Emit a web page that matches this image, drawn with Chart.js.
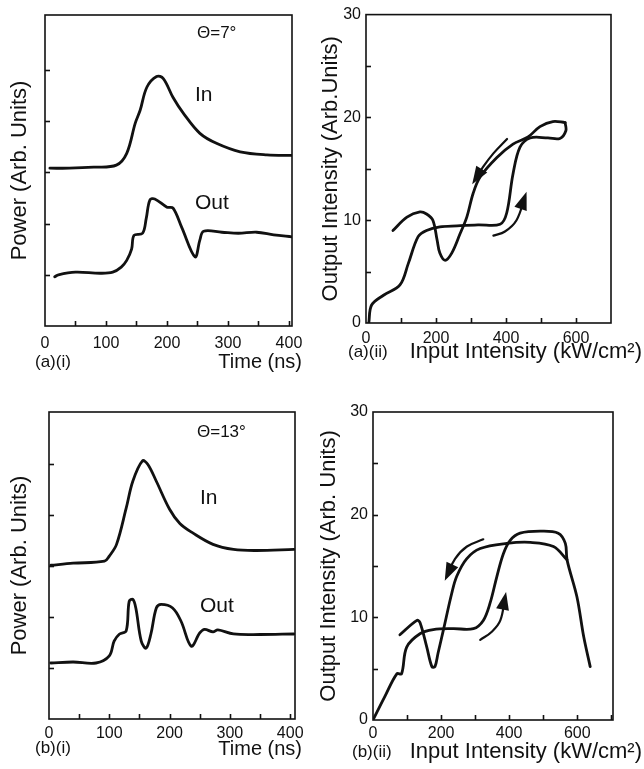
<!DOCTYPE html>
<html><head><meta charset="utf-8">
<script src="https://cdn.jsdelivr.net/npm/chart.js@4.4.1/dist/chart.umd.min.js"></script>
<style>
html,body{margin:0;padding:0;background:#fff;}
#wrap{position:relative;width:644px;height:769px;overflow:hidden;}
canvas{position:absolute;}
</style></head><body>
<div id="wrap">
<canvas id="c1" width="320" height="380" style="left:0;top:0"></canvas>
<canvas id="c2" width="324" height="380" style="left:320px;top:0"></canvas>
<canvas id="c3" width="320" height="389" style="left:0;top:380px"></canvas>
<canvas id="c4" width="324" height="389" style="left:320px;top:380px"></canvas>
</div>
<script>
// ---------- data: (a)(i) theta = 7 deg ----------
const inTimeA  = [8, 40, 80, 117, 134, 148, 156, 167, 183, 194, 210, 227, 254, 282, 320, 364, 405];
const inPowA   = [3.08, 3.08, 3.10, 3.14, 3.37, 3.96, 4.21, 4.66, 4.87, 4.83, 4.46, 4.15, 3.76, 3.56, 3.40, 3.34, 3.33];
const outTimeA = [16, 22, 50, 90, 111, 125, 134, 142, 146, 160, 166, 172, 180, 200, 210, 224, 246, 254, 260, 290, 317, 347, 375, 405];
const outPowA  = [0.96, 1.0, 1.05, 1.03, 1.05, 1.15, 1.28, 1.5, 1.77, 1.81, 2.1, 2.46, 2.48, 2.32, 2.30, 1.93, 1.35, 1.68, 1.85, 1.83, 1.81, 1.83, 1.78, 1.74];
// ---------- data: (a)(ii) ----------
const riseInA  = [8, 16, 50, 97, 121, 149, 173, 211, 260, 320, 383, 402, 420, 440, 469, 520, 554, 571, 569];
const riseOutA = [0, 1.75, 2.7, 3.7, 5.8, 8.4, 9.0, 9.35, 9.45, 9.55, 9.6, 10.7, 14.5, 17.1, 18.0, 18.0, 17.95, 18.7, 19.5];
const fallInA  = [569, 534, 497, 463, 420, 374, 326, 306, 288, 269, 245, 226, 211, 203, 191, 173, 154, 117, 77];
const fallOutA = [19.5, 19.6, 19.1, 18.1, 17.4, 16.1, 14.2, 12.6, 10.3, 8.7, 6.8, 6.1, 6.8, 8.1, 10.0, 10.6, 10.8, 10.3, 9.0];
const arrowDownInA  = [403, 364, 335, 311];
const arrowDownOutA = [17.9, 16.5, 15.2, 13.9];
const arrowUpInA    = [364, 397, 430, 454];
const arrowUpOutA   = [8.5, 8.9, 10.0, 12.3];
// ---------- data: (b)(i) theta = 13 deg ----------
const inTimeB  = [3, 40, 92, 100, 112, 128, 139, 155, 164, 178, 200, 217, 239, 272, 306, 344, 406];
const inPowB   = [3.02, 3.06, 3.1, 3.2, 3.43, 4.14, 4.67, 5.07, 5.0, 4.67, 4.12, 3.84, 3.65, 3.43, 3.33, 3.31, 3.33];
const outTimeB = [3, 40, 78, 100, 108, 117, 128, 133, 139, 144, 153, 161, 169, 178, 186, 205, 219, 236, 250, 258, 272, 280, 306, 350, 406];
const outPowB  = [1.1, 1.12, 1.1, 1.24, 1.53, 1.67, 1.73, 2.31, 2.35, 2.18, 1.53, 1.39, 1.67, 2.18, 2.25, 2.18, 1.92, 1.43, 1.69, 1.76, 1.71, 1.75, 1.67, 1.66, 1.67];
// ---------- data: (b)(ii) ----------
const riseInB  = [0, 35, 70, 84, 99, 138, 177, 235, 295, 324, 344, 364, 383, 403, 432, 491, 544, 565, 570, 599, 619, 638];
const riseOutB = [0, 2.3, 4.5, 4.5, 7.1, 8.4, 8.8, 8.9, 8.9, 9.7, 11.4, 14.0, 16.2, 17.5, 18.2, 18.4, 18.2, 17.2, 15.6, 12.0, 8.1, 5.2];
const fallInB  = [570, 530, 462, 393, 315, 275, 246, 231, 207, 191, 182, 173, 158, 138, 129, 79];
const fallOutB = [15.6, 16.9, 17.3, 17.2, 16.7, 15.7, 14.0, 12.3, 8.8, 6.5, 5.2, 5.2, 7.1, 9.5, 9.7, 8.3];
const arrowDownInB  = [324, 276, 241, 217];
const arrowDownOutB = [17.6, 16.9, 15.7, 14.0];
const arrowUpInB    = [315, 349, 374, 388];
const arrowUpOutB   = [7.8, 8.6, 9.7, 12.0];
// ---------- ticks ----------
const timeTicks   = [0, 50, 100, 150, 200, 250, 300, 350, 400];
const timeLabels  = [0, 100, 200, 300, 400];
const powerTicks  = [1, 2, 3, 4, 5];
const inputTicks  = [0, 100, 200, 300, 400, 500, 600, 700];
const inputLabels = [0, 200, 400, 600];
const outTicks    = [0, 5, 10, 15, 20, 25, 30];
const outLabels   = [0, 10, 20, 30];

const zip = (xs, ys) => xs.map((x, i) => ({x, y: ys[i]}));
const FONT = "'Liberation Sans', Arial, Helvetica, sans-serif";
const INK = '#111';

const decor = {
  id: 'decor',
  afterDraw(chart, args, o) {
    const ctx = chart.ctx, a = chart.chartArea;
    ctx.save();
    ctx.strokeStyle = INK; ctx.lineWidth = 1.6;
    ctx.strokeRect(a.left, a.top, a.right - a.left, a.bottom - a.top);
    const tl = 5;
    const xs = chart.scales.x, ys = chart.scales.y;
    xs.ticks.forEach(t => {
      const p = Math.round(xs.getPixelForValue(t.value)) + 0.5;
      if (p <= a.left + 1 || p >= a.right - 1) return;
      ctx.beginPath(); ctx.moveTo(p, a.bottom); ctx.lineTo(p, a.bottom - tl); ctx.stroke();
    });
    ys.ticks.forEach(t => {
      const p = Math.round(ys.getPixelForValue(t.value)) + 0.5;
      if (p <= a.top + 1 || p >= a.bottom - 1) return;
      ctx.beginPath(); ctx.moveTo(a.left, p); ctx.lineTo(a.left + tl, p); ctx.stroke();
    });
    // arrowheads
    chart.data.datasets.forEach((ds, i) => {
      if (!ds.arrow) return;
      const pts = chart.getDatasetMeta(i).data;
      const p1 = pts[pts.length - 2], p2 = pts[pts.length - 1];
      const ang = Math.atan2(p2.y - p1.y, p2.x - p1.x);
      const L = 18, W = 6.5;
      ctx.fillStyle = INK;
      ctx.beginPath();
      ctx.moveTo(p2.x + Math.cos(ang) * 5, p2.y + Math.sin(ang) * 5);
      const bx = p2.x - Math.cos(ang) * (L - 5), by = p2.y - Math.sin(ang) * (L - 5);
      ctx.lineTo(bx + Math.cos(ang + Math.PI / 2) * W, by + Math.sin(ang + Math.PI / 2) * W);
      ctx.lineTo(bx - Math.cos(ang + Math.PI / 2) * W, by - Math.sin(ang + Math.PI / 2) * W);
      ctx.closePath(); ctx.fill();
    });
    (o.texts || []).forEach(t => {
      ctx.font = t.size + 'px ' + FONT;
      ctx.textAlign = t.align || 'left';
      ctx.textBaseline = 'middle';
      ctx.fillStyle = INK;
      ctx.fillText(t.text, t.x, t.y);
    });
    ctx.restore();
  }
};

function line(data, w) {
  return {data, borderColor: INK, borderWidth: w || 2.8, pointRadius: 0, tension: 0.35, fill: false,
          borderCapStyle: 'round', borderJoinStyle: 'round'};
}
function arrowLine(data) {
  const d = line(data, 2.2); d.arrow = true; d.tension = 0.4; return d;
}

function makePanel(id, cfg) {
  const cv = document.getElementById(id);
  const W = cv.width, H = cv.height;
  new Chart(cv, {
    type: 'line',
    data: {datasets: cfg.datasets},
    options: {
      responsive: false, animation: false, devicePixelRatio: 1,
      layout: {padding: {left: 0, top: cfg.area.top, right: W - cfg.area.right, bottom: 0}},
      plugins: {legend: {display: false}, tooltip: {enabled: false}, decor: {texts: cfg.texts}},
      scales: {
        x: {
          type: 'linear', min: 0, max: cfg.xmax,
          grid: {display: false, drawTicks: false}, border: {display: false},
          afterBuildTicks: s => { s.ticks = cfg.xticks.map(v => ({value: v})); },
          afterFit: s => { s.height = H - cfg.area.bottom; },
          ticks: {autoSkip: false, maxRotation: 0, padding: cfg.xpad, color: INK,
                  font: {family: FONT, size: 16},
                  callback: v => cfg.xlabels.includes(v) ? String(v) : ''}
        },
        y: {
          type: 'linear', min: 0, max: cfg.ymax,
          grid: {display: false, drawTicks: false}, border: {display: false},
          afterBuildTicks: s => { s.ticks = cfg.yticks.map(v => ({value: v})); },
          afterFit: s => { s.width = cfg.area.left; },
          ticks: {display: !!cfg.ylabels, autoSkip: false, padding: 5, color: INK,
                  font: {family: FONT, size: 16},
                  callback: v => (cfg.ylabels || []).includes(v) ? String(v) : ''},
          title: {display: true, text: cfg.ytitle, color: INK,
                  font: {family: FONT, size: 22, lineHeight: cfg.ytlh || 1}, padding: {top: cfg.ytpad, bottom: 0}}
        }
      }
    },
    plugins: [decor]
  });
}

makePanel('c1', {
  area: {left: 45, right: 292, top: 15, bottom: 326}, xmax: 405, ymax: 6.07,
  xticks: timeTicks, xlabels: timeLabels, yticks: powerTicks, ylabels: null, xpad: 8,
  ytitle: 'Power (Arb. Units)', ytpad: 9,
  datasets: [line(zip(inTimeA, inPowA)), line(zip(outTimeA, outPowA))],
  texts: [
    {text: '(a)(i)', x: 35, y: 362, size: 17},
    {text: 'Time (ns)', x: 302, y: 362, size: 20, align: 'right'},
    {text: 'Θ=7°', x: 197, y: 33, size: 17},
    {text: 'In', x: 195, y: 95, size: 21},
    {text: 'Out', x: 195, y: 203, size: 21}
  ]
});
makePanel('c2', {
  area: {left: 46, right: 291, top: 14, bottom: 323}, xmax: 700, ymax: 30,
  xticks: inputTicks, xlabels: inputLabels, yticks: outTicks, ylabels: outLabels, xpad: 6,
  ytitle: 'Output Intensity (Arb.Units)', ytpad: 0,
  datasets: [line(zip(riseInA, riseOutA)), line(zip(fallInA, fallOutA)),
             arrowLine(zip(arrowDownInA, arrowDownOutA)), arrowLine(zip(arrowUpInA, arrowUpOutA))],
  texts: [
    {text: '(a)(ii)', x: 28, y: 352, size: 17},
    {text: 'Input Intensity (kW/cm²)', x: 322, y: 352, size: 22, align: 'right'}
  ]
});
makePanel('c3', {
  area: {left: 49, right: 295, top: 32, bottom: 339}, xmax: 408, ymax: 6.03,
  xticks: timeTicks, xlabels: timeLabels, yticks: powerTicks, ylabels: null, xpad: 5,
  ytitle: 'Power (Arb. Units)', ytpad: 9,
  datasets: [line(zip(inTimeB, inPowB)), line(zip(outTimeB, outPowB))],
  texts: [
    {text: '(b)(i)', x: 35, y: 368, size: 17},
    {text: 'Time (ns)', x: 302, y: 369, size: 20, align: 'right'},
    {text: 'Θ=13°', x: 197, y: 52, size: 17},
    {text: 'In', x: 200, y: 118, size: 21},
    {text: 'Out', x: 200, y: 226, size: 21}
  ]
});
makePanel('c4', {
  area: {left: 53, right: 293, top: 32, bottom: 340}, xmax: 705, ymax: 30,
  xticks: inputTicks, xlabels: inputLabels, yticks: outTicks, ylabels: outLabels, xpad: 4,
  ytitle: 'Output Intensity (Arb. Units)', ytpad: 0, ytlh: 0.8,
  datasets: [line(zip(riseInB, riseOutB)), line(zip(fallInB, fallOutB)),
             arrowLine(zip(arrowDownInB, arrowDownOutB)), arrowLine(zip(arrowUpInB, arrowUpOutB))],
  texts: [
    {text: '(b)(ii)', x: 32, y: 372, size: 17},
    {text: 'Input Intensity (kW/cm²)', x: 322, y: 372, size: 22, align: 'right'}
  ]
});
</script>
</body></html>
